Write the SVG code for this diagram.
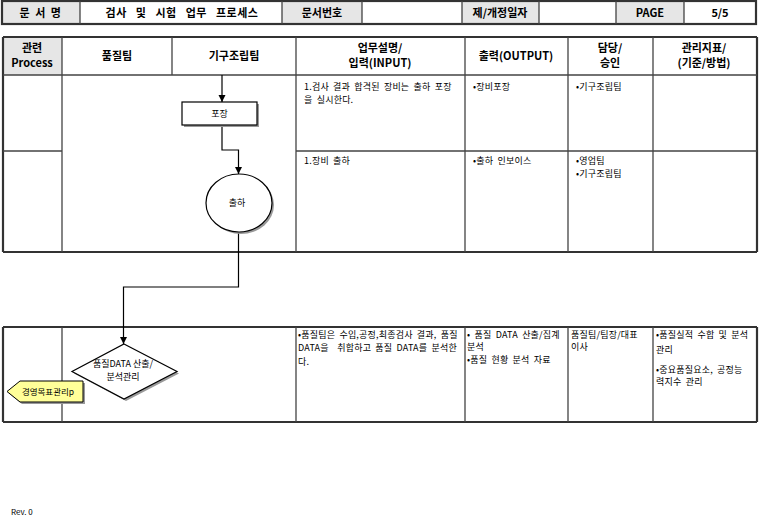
<svg xmlns="http://www.w3.org/2000/svg" width="759" height="523" viewBox="0 0 759 523">
<style>
text{font-family:"Noto Sans CJK KR","Open Sans",sans-serif;fill:#000}
.h{font-size:11px;font-weight:bold;text-anchor:middle}
.b{font-size:9px;word-spacing:2px;letter-spacing:0.2px;white-space:pre}
.c{font-size:9px;text-anchor:middle}
.thick{stroke:#333;stroke-width:2.2;fill:none}
.ln{stroke:#444;stroke-width:1.3;fill:none}
.gray{fill:#e6e6e6}
.shape{fill:#fff;stroke:#000;stroke-width:1.2}
.shadow{fill:#999}
.conn{stroke:#000;stroke-width:1.2;fill:none;marker-end:url(#arr)}
</style>
<defs>
<marker id="arr" markerWidth="8" markerHeight="8" refX="7" refY="4" orient="auto" markerUnits="userSpaceOnUse">
<path d="M0,0.5 L7,4 L0,7.5 Z" fill="#000"/>
</marker>
</defs>
<rect width="759" height="523" fill="#fff"/>

<g id="doc-header">
<rect class="gray" x="2" y="1" width="78" height="23"/>
<rect class="gray" x="282" y="1" width="80" height="23"/>
<rect class="gray" x="462" y="1" width="77" height="23"/>
<rect class="gray" x="616" y="1" width="68" height="23"/>
<rect class="thick" x="2" y="1" width="754" height="23"/>
<path class="ln" d="M80,1V24M282,1V24M362,1V24M462,1V24M539,1V24M616,1V24M684,1V24"/>
<text class="h" x="41" y="17" letter-spacing="1.5">문 서 명</text>
<text class="h" x="182" y="17" word-spacing="6" letter-spacing="0.5">검사 및 시험 업무 프로세스</text>
<text class="h" x="322" y="17">문서번호</text>
<text class="h" x="500" y="17">제/개정일자</text>
<text class="h" x="650" y="17">PAGE</text>
<text class="h" x="720" y="17">5/5</text>
</g>

<g id="table1">
<rect class="gray" x="3" y="37" width="59" height="38"/>
<path class="thick" d="M3,37H757M3,37V252M757,37V252M3,252H757"/>
<path class="ln" d="M3,75H757M62,37V252M172,37V75M296,37V252M465,37V252M568,37V252M653,37V252M3,151H62M296,151H757"/>
<text class="h" x="32" y="52">관련</text>
<text class="h" x="32" y="67">Process</text>
<text class="h" x="117" y="60">품질팀</text>
<text class="h" x="234" y="60">기구조립팀</text>
<text class="h" x="380" y="52">업무설명/</text>
<text class="h" x="380" y="67">입력(INPUT)</text>
<text class="h" x="516" y="60">출력(OUTPUT)</text>
<text class="h" x="610" y="52">담당/</text>
<text class="h" x="610" y="67">승인</text>
<text class="h" x="704" y="52">관리지표/</text>
<text class="h" x="704" y="67">(기준/방법)</text>
<text class="b" x="304" y="90">1.검사 결과 합격된 장비는 출하 포장</text>
<text class="b" x="304" y="103">을 실시한다.</text>
<text class="b" x="473" y="90">•장비포장</text>
<text class="b" x="576" y="90">•기구조립팀</text>
<text class="b" x="304" y="164">1.장비 출하</text>
<text class="b" x="473" y="164">•출하 인보이스</text>
<text class="b" x="576" y="164">•영업팀</text>
<text class="b" x="576" y="177">•기구조립팀</text>
</g>

<g id="table2">
<path class="thick" d="M3,327H757M3,327V422M757,327V422M3,422H757"/>
<path class="ln" d="M62,327V422M296,327V422M465,327V422M568,327V422M653,327V422"/>
<text class="b" x="298" y="338">•품질팀은 수입,공정,최종검사 결과, 품질</text>
<text class="b" x="298" y="351">DATA을  취합하고 품질 DATA를 분석한</text>
<text class="b" x="298" y="365">다.</text>
<text class="b" x="467" y="338">• 품질 DATA 산출/집계</text>
<text class="b" x="467" y="350">분석</text>
<text class="b" x="467" y="363">•품질 현황 분석 자료</text>
<text class="b" x="571" y="338">품질팀/팀장/대표</text>
<text class="b" x="571" y="350">이사</text>
<text class="b" x="656" y="338">•품질실적 수합 및 분석</text>
<text class="b" x="656" y="353">관리</text>
<text class="b" x="656" y="373">•중요품질요소, 공정능</text>
<text class="b" x="656" y="385">력지수 관리</text>
</g>

<g id="connectors">
<path class="conn" d="M222,75V102"/>
<path class="conn" d="M222,125V150H238.5V174"/>
<path class="conn" d="M238.5,232V287H123.5V344"/>
</g>

<g id="node-pack">
<rect class="shadow" x="184" y="104" width="75" height="23"/>
<rect class="shape" x="182" y="102" width="75" height="23"/>
<text class="c" x="219.5" y="117">포장</text>
</g>

<g id="node-ship">
<ellipse class="shadow" cx="241" cy="205" rx="33" ry="29"/>
<ellipse class="shape" cx="239" cy="203" rx="33" ry="29"/>
<text class="c" x="237" y="206">출하</text>
</g>

<g id="node-data">
<polygon class="shadow" points="126,346 179,373.5 126,401 74,373.5"/>
<polygon class="shape" points="124,344 177,371.5 124,399 72,371.5"/>
<text class="c" x="123" y="367">품질DATA 산출/</text>
<text class="c" x="123" y="380">분석관리</text>
</g>

<g id="node-goal">
<polygon class="shadow" points="9,393.5 22,383 85,383 85,404 22,404"/>
<polygon points="7,391.5 20,381 83,381 83,402 20,402" fill="#ffff99" stroke="#000" stroke-width="1"/>
<text x="48" y="395" font-size="8.5" text-anchor="middle">경영목표관리p</text>
</g>

<text x="11" y="515" font-size="8" font-family="Open Sans, sans-serif">Rev. 0</text>
</svg>
